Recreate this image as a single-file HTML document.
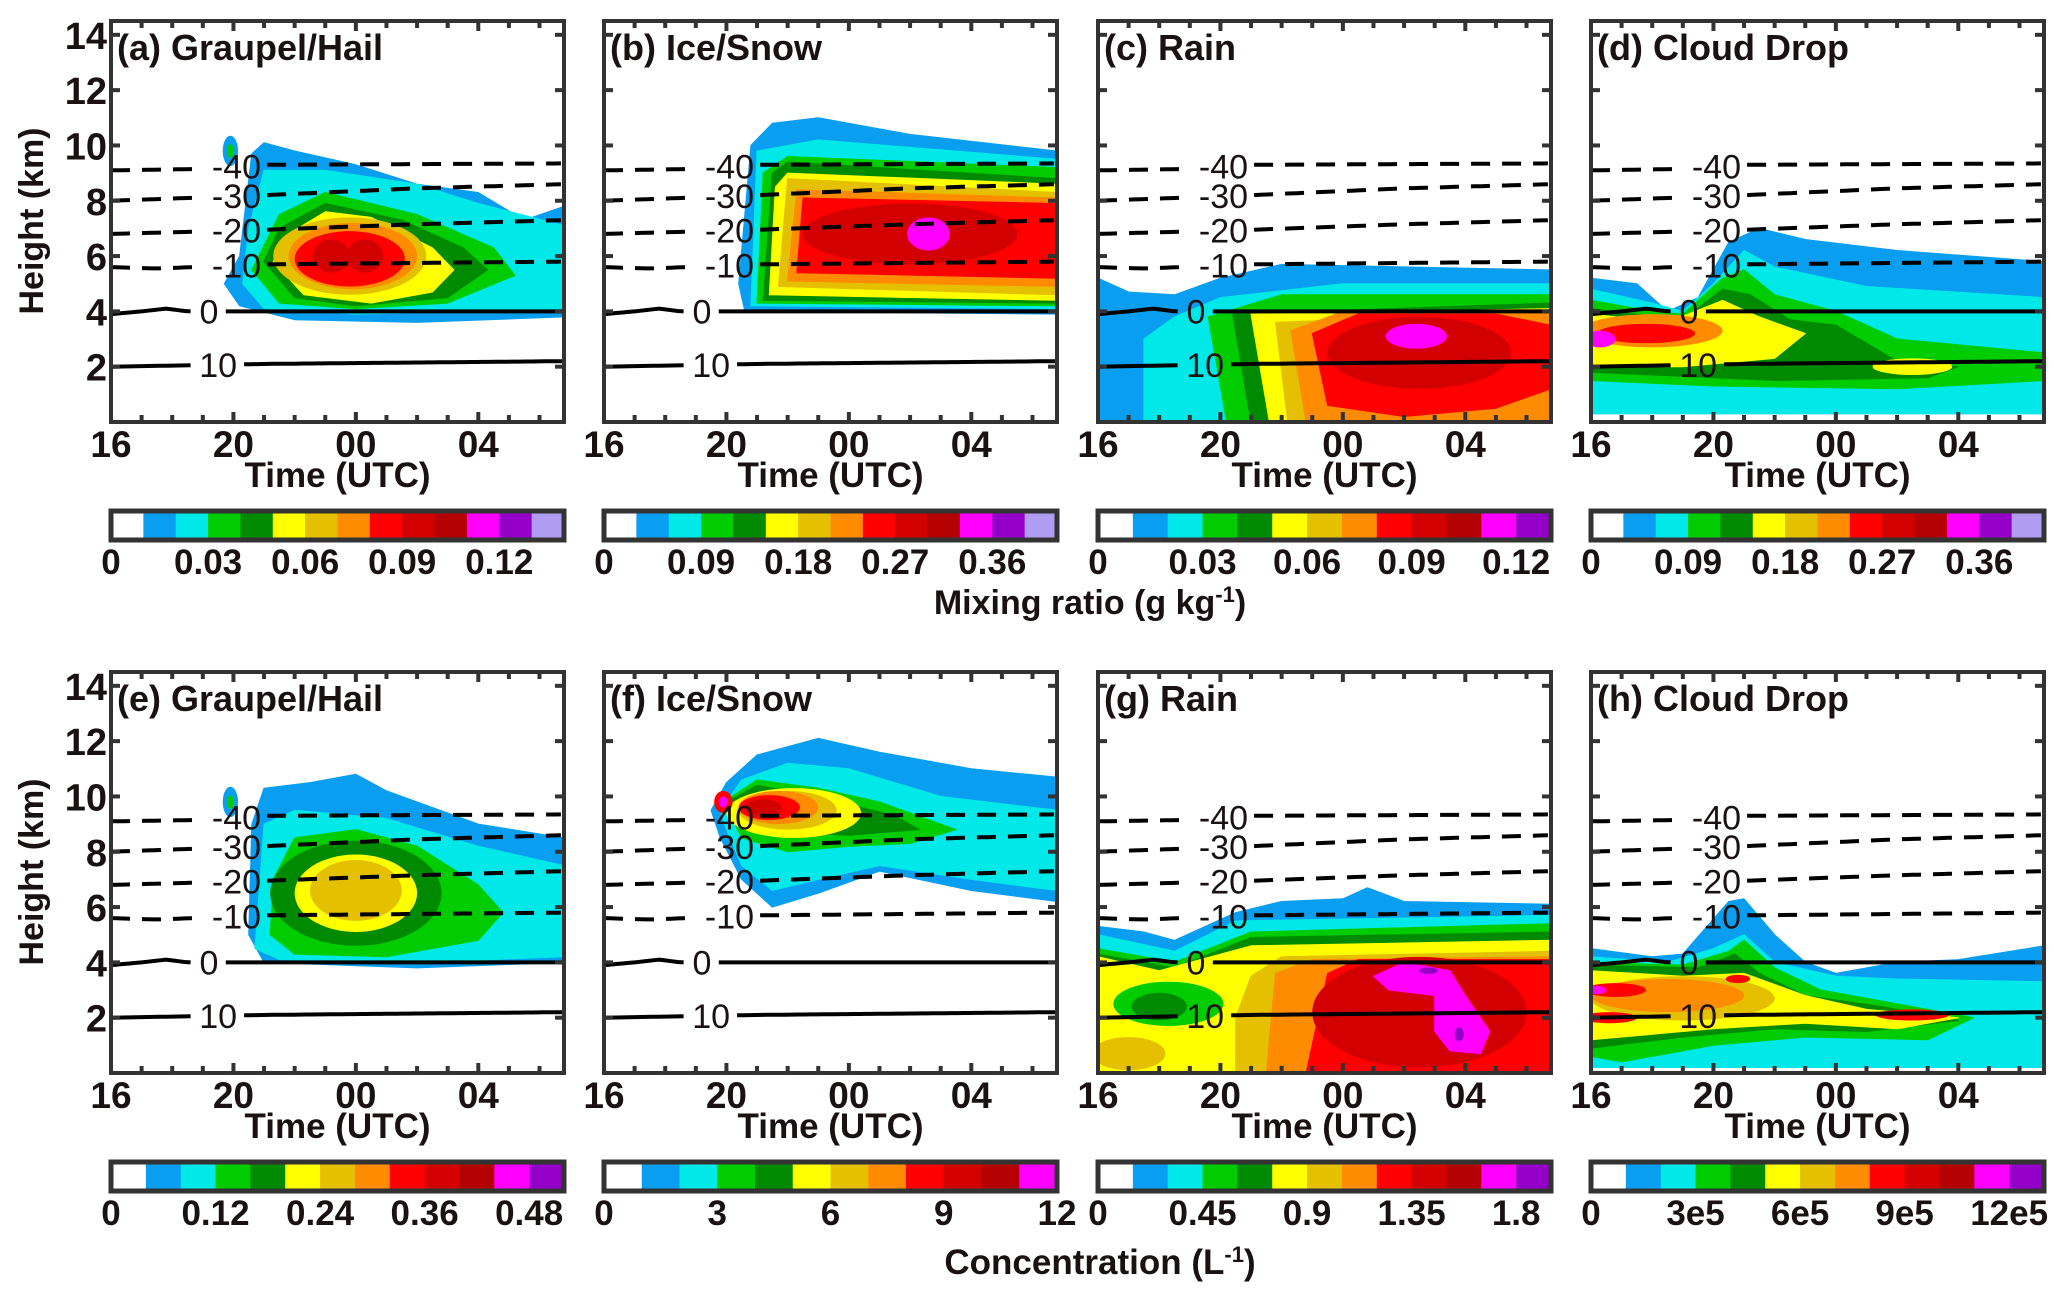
<!DOCTYPE html>
<html><head><meta charset="utf-8">
<style>
html,body{margin:0;padding:0;background:#fff;}
svg{display:block;}
text{font-family:"Liberation Sans",sans-serif;fill:#1a1212;}
.b{font-weight:bold;}
.n{font-family:"Liberation Sans Narrow","Liberation Sans",sans-serif;}
</style></head>
<body>
<svg id="fig" width="2067" height="1298" viewBox="0 0 2067 1298" xmlns="http://www.w3.org/2000/svg"></svg>
<script>
// ---- data ----
const palette = ["#ffffff","#0a9ef0","#00e8e8","#00cc00","#008a00","#ffff00","#e5c000","#ff8c00","#ff0000","#d20000","#b40000","#ff00ff","#9400c8","#b09cf0"];
const timeTicks = [0,4,8,12];
const timeTickLabels = ["16","20","00","04"];
const heightTicks = [2,4,6,8,10,12,14];
const tMax = 14.8, zMax = 14.5;
// temperature contours [t,z]
const isoM40 = [[0,9.1],[3,9.15],[5,9.3],[14.8,9.35]];
const isoM30 = [[0,8.0],[5,8.2],[10,8.45],[14.8,8.6]];
const isoM20 = [[0,6.8],[5,6.95],[10,7.15],[14.8,7.3]];
const isoM10 = [[0,5.6],[1.5,5.55],[5,5.7],[14.8,5.8]];
const iso0 = [[0,3.9],[1,4.0],[1.8,4.1],[2.5,4.0],[14.8,4.0]];
const iso10 = [[0,2.0],[5,2.1],[14.8,2.2]];
const isoLines = [
 {pts:isoM40,label:"-40",lt:4.1,dash:true},
 {pts:isoM30,label:"-30",lt:4.1,dash:true},
 {pts:isoM20,label:"-20",lt:4.1,dash:true},
 {pts:isoM10,label:"-10",lt:4.1,dash:true},
 {pts:iso0,label:"0",lt:3.2,dash:false},
 {pts:iso10,label:"10",lt:3.5,dash:false}];

// field layers: ["p",level,[[t,z],...]] polygon or ["e",level,t,z,rt,rz] ellipse
const fieldA = [
 ["p",1,[[3.7,5.0],[4.2,4.2],[6,3.7],[10,3.6],[14.8,3.8],[14.8,7.8],[13.5,7.3],[12,8.3],[10,8.6],[8,9.3],[6,9.8],[5,10.1],[4.6,9.7],[4.2,6]]],
 ["e",1,3.9,9.8,0.25,0.55],["e",3,3.9,9.8,0.1,0.25],
 ["p",2,[[4.3,5],[5,4.1],[8,3.9],[12,4.0],[14.8,4.1],[14.8,7.1],[12,7.9],[10,8.6],[7,9.1],[5,9.1],[4.5,7]]],
 ["p",3,[[4.6,5.5],[5.5,4.3],[8,4.1],[11,4.3],[13.2,5.3],[12.5,6.3],[10,7.5],[7,8.3],[5.5,7.5]]],
 ["p",4,[[5,5.8],[6,4.5],[8,4.2],[11,4.5],[12.3,5.5],[11.5,6.3],[9.5,7.3],[7,7.9],[5.5,7.0]]],
 ["p",5,[[5.3,5.8],[6.3,4.6],[8.5,4.3],[10.5,4.7],[11.2,5.5],[10.5,6.3],[8.5,7.4],[7,7.6],[5.8,6.8]]],
 ["e",6,7.8,6.0,2.5,1.4],["e",7,7.9,6.0,2.1,1.2],["e",8,7.8,5.9,1.8,1.0],
 ["e",9,7.2,6.0,0.6,0.6],["e",9,8.3,6.0,0.6,0.6]];
const fieldB = [
 ["p",1,[[4.4,5],[4.6,4.0],[14.8,3.9],[14.8,9.8],[10,10.4],[7,11],[5.5,10.8],[4.8,10]]],
 ["p",2,[[4.8,4.2],[14.8,4.1],[14.8,9.5],[7,10.2],[5,9.8]]],
 ["p",3,[[5,4.3],[14.8,4.2],[14.8,9.2],[6,9.6],[5.2,9]]],
 ["p",4,[[5.2,4.4],[14.8,4.3],[14.8,8.8],[6,9.4],[5.5,9]]],
 ["p",5,[[5.4,4.6],[14.8,4.4],[14.8,8.6],[6,9.0],[5.6,8.5]]],
 ["p",6,[[5.7,4.9],[14.8,4.6],[14.8,8.3],[6,8.8]]],
 ["p",7,[[6.0,5.1],[14.8,4.9],[14.8,8.1],[6.3,8.4]]],
 ["p",8,[[6.3,5.4],[14.8,5.2],[14.8,7.9],[6.5,8.1]]],
 ["e",9,10,6.8,3.5,1.1],["e",11,10.6,6.8,0.7,0.6]];
const fieldC = [
 ["p",1,[[0,0],[0,5.2],[1,4.7],[2.5,4.6],[4,5.2],[6,5.7],[14.8,5.5],[14.8,0]]],
 ["p",2,[[1.5,0],[1.5,3],[2.5,3.8],[4,4.5],[8,5.0],[14.8,5.0],[14.8,0]]],
 ["p",3,[[4.2,0],[3.6,3.8],[6,4.6],[14.8,4.6],[14.8,0]]],
 ["p",4,[[5,0],[4.4,3.9],[14.8,4.3],[14.8,0]]],
 ["p",5,[[5.6,0],[5,3.9],[14.8,4.1],[14.8,0]]],
 ["p",6,[[6.2,0],[5.8,3.6],[14.8,4.0],[14.8,0]]],
 ["p",7,[[6.8,0],[6.3,3.3],[8,4],[14.8,4],[14.8,0]]],
 ["p",8,[[7.5,0.6],[7,3.2],[8.5,3.9],[13,3.9],[14.8,3.5],[14.8,1.2],[13,0.5],[10,0.2]]],
 ["e",9,10.5,2.5,3,1.3],["e",11,10.4,3.1,1.0,0.45]];
const fieldD = [
 ["p",1,[[0,0.8],[0,5.2],[1.5,5.0],[2.5,4.0],[3.5,4.5],[4.5,6.5],[5.5,7.0],[7,6.6],[10,6.2],[14.8,5.8],[14.8,0.3],[0,0.3]]],
 ["p",2,[[0,0.3],[0,4.8],[2,4.3],[3,4],[4,5],[5,6.2],[6,5.6],[9,4.9],[14.8,4.5],[14.8,0.3]]],
 ["p",3,[[0,1.5],[0,4.4],[2,4.0],[3,3.9],[4.3,5.2],[5,5.5],[6,4.6],[8,4],[10,3],[14.8,2.5],[14.8,1.5],[10,1.2],[4,1.3]]],
 ["p",4,[[0,1.8],[0,4.1],[3,3.7],[4.3,4.8],[5.2,4.6],[6.5,3.7],[8,3.5],[10,2.2],[12,2.0],[11,1.6],[6,1.5]]],
 ["p",5,[[0,2.0],[0,3.9],[2.5,3.6],[4.3,4.4],[5.5,3.8],[7,3.2],[6,2.3],[3,2.0]]],
 ["e",5,10.5,2.0,1.3,0.3],["e",7,2,3.3,2.3,0.6],["e",8,1.8,3.2,1.6,0.35],["e",11,0.3,3.0,0.5,0.3]];
const fieldE = [
 ["p",1,[[4.5,5],[5,4.0],[10,3.8],[14.8,4],[14.8,8.5],[12,9],[9,10.2],[8,10.8],[6.5,10.5],[5,10.3],[4.6,9]]],
 ["e",1,3.9,9.8,0.25,0.55],["e",3,3.9,9.8,0.1,0.25],
 ["p",2,[[4.7,4.5],[5.5,4.1],[10,4.0],[14.8,4.2],[14.8,7.5],[12,8.2],[9,9.2],[6,9.5],[5,9]]],
 ["p",3,[[5.2,5],[6,4.3],[9,4.2],[12,4.8],[12.8,5.8],[12,6.8],[10,8.2],[8,8.8],[6,8.5],[5.3,7]]],
 ["e",4,8,6.5,2.8,1.9],["e",5,8,6.5,2.0,1.4],["e",6,8,6.6,1.5,1.1]];
const fieldF = [
 ["p",1,[[3.5,9.5],[4.0,10.5],[5,11.5],[7,12.1],[9,11.6],[12,11],[14.8,10.7],[14.8,6.2],[12,6.6],[9,7.3],[7,6.5],[5.5,6.0],[4.5,7.0],[3.8,8.5]]],
 ["p",2,[[3.8,9.5],[4.5,10.6],[6,11.2],[8,11],[11,10],[14.8,9.5],[14.8,6.6],[12,7],[9,7.5],[7,7],[5.5,6.6],[4.5,7.5],[4,8.8]]],
 ["p",3,[[3.9,9.8],[5,10.6],[7,10.3],[9,9.8],[11.5,8.8],[10,8.3],[8,8.2],[6,8],[4.5,8.5]]],
 ["p",4,[[4,9.8],[5,10.4],[7,10],[9.5,9.3],[10.3,8.8],[8,8.6],[5.5,8.7],[4.2,9.2]]],
 ["e",5,6.2,9.4,2.2,0.9],["e",6,6,9.5,1.6,0.7],["e",7,5.7,9.6,1.3,0.6],
 ["e",8,5.4,9.6,1.0,0.45],["e",9,5.2,9.6,0.6,0.3],["e",8,3.9,9.8,0.3,0.4],["e",11,3.9,9.8,0.15,0.2]];
const fieldG = [
 ["p",1,[[0,0],[0,5.3],[1.5,5.1],[2.5,4.8],[4.5,5.8],[6,6.2],[8,6.3],[8.8,6.7],[10,6.2],[14.8,6.1],[14.8,0]]],
 ["p",2,[[0,0],[0,5.0],[2.5,4.4],[4.5,5.5],[14.8,5.7],[14.8,0]]],
 ["p",3,[[0,0],[0,4.5],[2.5,4.0],[5,5.1],[14.8,5.4],[14.8,0]]],
 ["p",4,[[0,0],[0,4.3],[2.5,3.8],[5,4.9],[14.8,5.1],[14.8,0]]],
 ["p",5,[[0,0],[0,4.2],[2,3.7],[5,4.6],[14.8,4.8],[14.8,0]]],
 ["e",3,2.3,2.5,1.8,0.8],["e",4,2.0,2.4,0.9,0.5],["e",6,1,0.7,1.2,0.6],
 ["p",6,[[4.5,0],[4.5,2],[5,3.5],[6,4.2],[14.8,4.4],[14.8,0]]],
 ["p",7,[[5.5,0],[5.8,3.6],[7,4.1],[14.8,4.2],[14.8,0]]],
 ["p",8,[[6.8,0],[7.5,3.6],[8.5,4.1],[14.8,4.1],[14.8,0]]],
 ["e",9,10.5,2.2,3.5,2.0],
 ["p",11,[[9,3.5],[10,4],[11.5,3.7],[12,2.8],[12.8,1.5],[12.5,0.7],[11.5,0.8],[11,1.5],[11,2.8],[9.5,3.0]]],
 ["e",12,10.8,3.7,0.3,0.12],["e",12,11.8,1.4,0.15,0.25]];
const fieldH = [
 ["p",1,[[0,0.2],[0,4.5],[2,4.2],[3,4.3],[4.5,6.2],[5,6.3],[6,5],[7,4],[8,3.6],[9,3.8],[10,4],[12,4.1],[14.8,4.6],[14.8,0.2]]],
 ["p",2,[[0,0.2],[0,4.2],[2.5,4.0],[4,4.5],[5,5.0],[6,4.0],[8,3.5],[10,3.4],[14.8,3.3],[14.8,0.2]]],
 ["p",3,[[0,0.6],[0,4.0],[3,3.9],[4.5,4.4],[5,4.8],[6,3.8],[7.5,3],[9,2.7],[12.5,2],[11,1.2],[7,1.3],[4,1.0],[1,0.4]]],
 ["p",4,[[0,0.9],[0,3.9],[3.5,3.8],[4.7,4.3],[5.5,3.6],[7,2.8],[9.5,2.4],[12,1.9],[9,1.5],[6,1.6],[3,1.3]]],
 ["p",5,[[0,1.2],[0,3.7],[3,3.5],[5,3.6],[7,2.8],[9,2.3],[12,2.0],[10,1.6],[7,1.8],[4,1.6]]],
 ["e",6,3,2.7,3,0.8],["e",7,2.5,2.8,2.5,0.6],
 ["e",8,0.8,3.0,1.0,0.25],["e",8,0.6,2.0,0.9,0.2],["e",8,10.5,2.1,1.2,0.2],["e",8,4.8,3.4,0.4,0.15],["e",11,0.2,3.0,0.3,0.15]];

// colorbar data
const cbarCountsTop = [14,14,13,14];
const cbarCountsBot = [13,12,13,13];
const cbarStepsTop = [0.01,0.03,0.01,0.03];
const cbarStepsBot = [0.04,1,0.15,1e5];
const cbarLabels = [
 ["0","0.03","0.06","0.09","0.12"],["0","0.09","0.18","0.27","0.36"],["0","0.03","0.06","0.09","0.12"],["0","0.09","0.18","0.27","0.36"],
 ["0","0.12","0.24","0.36","0.48"],["0","3","6","9","12"],["0","0.45","0.9","1.35","1.8"],["0","3e5","6e5","9e5","12e5"]];
const cbarValues = [
 [0,0.03,0.06,0.09,0.12],[0,0.09,0.18,0.27,0.36],[0,0.03,0.06,0.09,0.12],[0,0.09,0.18,0.27,0.36],
 [0,0.12,0.24,0.36,0.48],[0,3,6,9,12],[0,0.45,0.9,1.35,1.8],[0,3e5,6e5,9e5,12e5]];
const titles = ["(a) Graupel/Hail","(b) Ice/Snow","(c) Rain","(d) Cloud Drop","(e) Graupel/Hail","(f) Ice/Snow","(g) Rain","(h) Cloud Drop"];
const fields = [fieldA,fieldB,fieldC,fieldD,fieldE,fieldF,fieldG,fieldH];

// ---- layout ----
const NS="http://www.w3.org/2000/svg";
const svg=document.getElementById('fig');
const panelX=[111,604,1098,1591], PW=453;
const rowY=[21,672], PH=401;
function mk(tag,attrs,parent){const e=document.createElementNS(NS,tag);for(const k in attrs)e.setAttribute(k,attrs[k]);(parent||svg).appendChild(e);return e;}
function txt(s,x,y,size,cls,anchor,parent){const t=mk('text',{x:x,y:y,'font-size':size,'text-anchor':anchor||'middle',class:cls||''},parent);t.textContent=s;return t;}
const defs=mk('defs',{});

for(let i=0;i<8;i++){
  const row=i<4?0:1, col=i%4;
  const x0=panelX[col], y0=rowY[row];
  const fx=t=>x0+t/tMax*PW, fy=z=>y0+PH-z/zMax*PH;
  const narrow=row===1?' n':'';
  const g=mk('g',{});
  
  
  const cp=mk('clipPath',{id:'cp'+i},defs);
  mk('rect',{x:x0,y:y0,width:PW,height:PH},cp);
  const fg=mk('g',{'clip-path':'url(#cp'+i+')'},g);
  
  
  fields[i].forEach(L=>{
    let el;
    if(L[0]==='p'){
      el=mk('polygon',{points:L[2].map(p=>fx(p[0]).toFixed(1)+','+fy(p[1]).toFixed(1)).join(' '),fill:palette[L[1]],'stroke':palette[L[1]],'stroke-width':1,'stroke-linejoin':'round'},fg);
    } else {
      el=mk('ellipse',{cx:fx(L[2]),cy:fy(L[3]),rx:L[4]/tMax*PW,ry:L[5]/zMax*PH,fill:palette[L[1]]},fg);
    }
    
    
  });
  // isotherms
  const interp=(pts,t)=>{for(let k=0;k<pts.length-1;k++){if(t>=pts[k][0]&&t<=pts[k+1][0]){const f=(t-pts[k][0])/(pts[k+1][0]-pts[k][0]);return pts[k][1]+f*(pts[k+1][1]-pts[k][1]);}}return pts[pts.length-1][1];};
  isoLines.forEach(L=>{
    const gap=L.label.length>2?1.0:(L.label.length>1?0.85:0.55);
    const segs=[[0,L.lt-gap],[L.lt+gap,tMax]];
    segs.forEach(s=>{
      const pts=[];
      for(let t=s[0];t<=s[1]+1e-6;t+=0.2)pts.push(fx(t).toFixed(1)+','+fy(interp(L.pts,t)).toFixed(1));
      const pl=mk('polyline',{points:pts.join(' '),fill:'none',stroke:'#000','stroke-width':4,'stroke-dasharray':L.dash?'19 12':'none'},fg);
      
      
    });
    const lt=txt(L.label,fx(L.lt),fy(interp(L.pts,L.lt))+12,34,narrow.trim(),'middle',fg);
    
    
  });
  // frame & ticks
  const fr=mk('rect',{x:x0,y:y0,width:PW,height:PH,fill:'none',stroke:'#333','stroke-width':4},g);
  
  
  for(let h=1;h<tMax;h++){
    const L=h%4===0?10:7;
    mk('line',{x1:fx(h),x2:fx(h),y1:y0+PH,y2:y0+PH-L,stroke:'#333','stroke-width':4},g);
    mk('line',{x1:fx(h),x2:fx(h),y1:y0,y2:y0+L,stroke:'#333','stroke-width':4},g);
  }
  heightTicks.forEach(z=>{
    mk('line',{x1:x0,x2:x0+9,y1:fy(z),y2:fy(z),stroke:'#333','stroke-width':4},g);
    mk('line',{x1:x0+PW,x2:x0+PW-9,y1:fy(z),y2:fy(z),stroke:'#333','stroke-width':4},g);
    if(col===0){const t=txt(String(z),x0-4,fy(z)+14,38,'b'+narrow,'end',g);
      
      }
  });
  timeTicks.forEach((tt,k)=>{
    const t=txt(timeTickLabels[k],fx(tt),y0+PH+35,37,'b'+narrow,'middle',g);
    
    
  });
  const xt=txt('Time (UTC)',x0+PW/2,y0+PH+65,35,'b'+narrow,'middle',g);
  
  
  const tt=txt(titles[i],x0+6,y0+39,36,'b'+narrow,'start',g);
  
  
  // colorbar
  const cy=row===0?511:1162, ch=29;
  const n=row===0?cbarCountsTop[col]:cbarCountsBot[col];
  const step=row===0?cbarStepsTop[col]:cbarStepsBot[col];
  const bw=PW/n;
  const cb=mk('g',{},g);
  
  
  for(let k=0;k<n;k++){
    const r=mk('rect',{x:x0+k*bw,y:cy,width:bw+0.5,height:ch,fill:palette[k]},cb);
    
    
  }
  mk('rect',{x:x0,y:cy,width:PW,height:ch,fill:'none',stroke:'#333','stroke-width':5},cb);
  cbarValues[i].forEach((v,k)=>{
    const t=txt(cbarLabels[i][k],x0+v/step*bw,cy+ch+34,35,'b'+narrow,'middle',cb);
    
    
  });
}
// axis titles
[221,872].forEach(y=>{
  const t=txt('Height (km)',0,0,34,'b','middle');
  t.setAttribute('transform','translate(43,'+y+') rotate(-90)');
  
  
});
const m=mk('text',{x:1090,y:614,'font-size':34,'text-anchor':'middle',class:'b'});


m.innerHTML='Mixing ratio (g kg<tspan dy="-12" font-size="22">-1</tspan><tspan dy="12">)</tspan>';
const c=mk('text',{x:1100,y:1274,'font-size':35,'text-anchor':'middle',class:'b n'});


c.innerHTML='Concentration (L<tspan dy="-12" font-size="22">-1</tspan><tspan dy="12">)</tspan>';
</script>
</body></html>
